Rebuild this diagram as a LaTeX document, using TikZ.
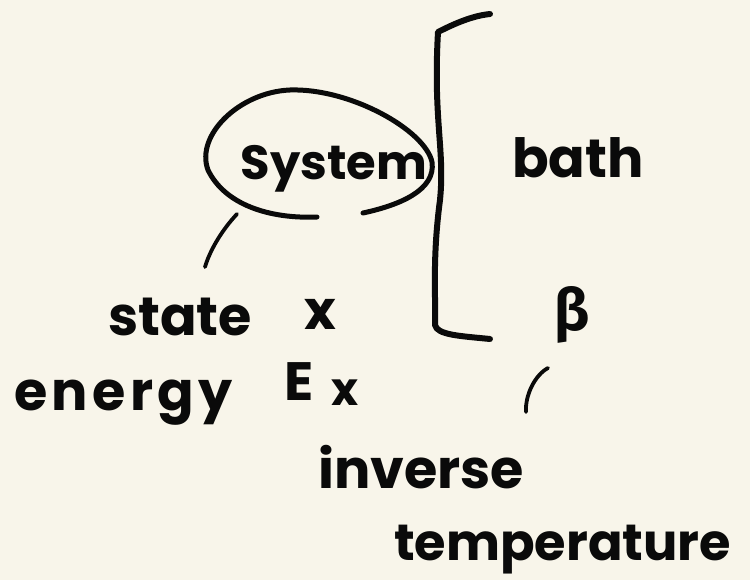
\documentclass[tikz,border=0pt]{standalone}
\usepackage{fontspec}
\setmainfont{Poppins}
\newfontfamily\greekfont{Fira Sans}
\newfontfamily\spacedfont[LetterSpace=8]{Poppins}
\definecolor{paper}{HTML}{F8F5EA}
\definecolor{ink}{HTML}{0A0A0A}
\begin{document}
\begin{tikzpicture}[x=1pt,y=-1pt,
  hand/.style={line width=5pt,line cap=round,line join=round,draw=ink},
  thin hand/.style={line width=3.8pt,line cap=round,draw=ink},
  word/.style={inner sep=0pt,text=ink,font=\fontsize{54}{60}\selectfont\bfseries}]
\fill[paper] (0,0) rectangle (750,580);
\useasboundingbox (0,0) rectangle (750,580);
% system ellipse (open at bottom)
\draw[hand] (317,217) .. controls (270,219) and (225,205) .. (208,170)
  .. controls (195,135) and (240,92) .. (290,90)
  .. controls (350,88) and (425,130) .. (432,162)
  .. controls (436,190) and (400,205) .. (363,213);
\node[word,anchor=base,font=\fontsize{48}{56}\selectfont\bfseries] (sys) at (334,180) {System};
% bracket
\draw[hand,line width=6pt] (490,14) .. controls (470,16) and (450,26) .. (438,32)
  .. controls (433,120) and (445,150) .. (440,200)
  .. controls (432,260) and (436,300) .. (435,325)
  .. controls (437,335) and (460,336) .. (490,339);
\node[word,anchor=base] (bath) at (578,178) {bath};
\node[word,anchor=center,font=\fontsize{58}{60}\greekfont\bfseries] (beta) at (572,315) {β};
% pointer lines
\coordinate (p1a) at (237,214);
\coordinate (p1b) at (205,267);
\draw[thin hand] (p1a) .. controls (222,230) and (210,250) .. (p1b);
\coordinate (p2a) at (548,368);
\coordinate (p2b) at (526,412);
\draw[thin hand] (p2a) .. controls (535,375) and (525,395) .. (p2b);
% labels
\node[word,anchor=base west] (state) at (108,335) {state};
\node[word,anchor=base] (sx) at (320,330) {x};
\node[word,anchor=base west,font=\fontsize{54}{60}\spacedfont\bfseries] (energy) at (14,410) {energy};
\node[word,anchor=base west] (E) at (284,400) {E};
\node[word,anchor=base,font=\fontsize{46}{50}\selectfont\bfseries] (ex) at (345,405) {x};
\node[word,anchor=base west] (inv) at (318,488) {inverse};
\node[word,anchor=base west,font=\fontsize{51}{56}\selectfont\bfseries] (temp) at (394,560) {temperature};
\end{tikzpicture}
\end{document}
